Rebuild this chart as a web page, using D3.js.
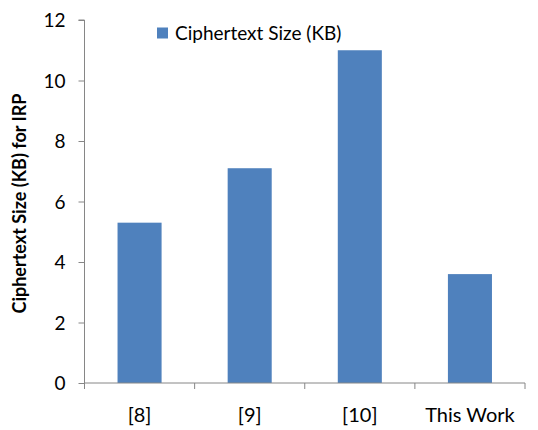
<!DOCTYPE html>
<html>
<head>
<meta charset="utf-8">
<script src="https://cdn.jsdelivr.net/npm/d3@7"></script>
<style>
    body { margin: 0; background: #fff; }
    svg text { font-family: Lato, "Noto Sans", sans-serif; fill: #000; }
</style>
</head>
<body>
<div id="chart"></div>
<script>
// chart data
let categories = ["[8]", "[9]", "[10]", "This Work"];
let ciphertextSize = [5.3, 7.1, 11, 3.6];
let yTicks = [0, 2, 4, 6, 8, 10, 12];
let seriesName = "Ciphertext Size (KB)";

let barColor = "#4F81BD";
let axisColor = "#868686";

let width = 538, height = 430;
let margin = {top: 20, right: 13, bottom: 47, left: 84.5};

let svg = d3.select("#chart").append("svg")
    .attr("width", width)
    .attr("height", height);

let x = d3.scaleBand()
    .domain(categories)
    .range([margin.left, width - margin.right])
    .paddingInner(0.6)
    .paddingOuter(0.3);

let y = d3.scaleLinear()
    .domain([0, 12])
    .range([height - margin.bottom, margin.top]);

// bars
svg.selectAll(".bar")
    .data(categories)
    .enter()
    .append("rect")
    .attr("class", "bar")
    .attr("x", d => x(d))
    .attr("width", x.bandwidth())
    .attr("y", (d, i) => y(ciphertextSize[i]))
    .attr("height", (d, i) => y(0) - y(ciphertextSize[i]))
    .attr("fill", barColor);

// y axis
let yAxis = svg.append("g")
    .attr("transform", `translate(${margin.left},0)`)
    .call(d3.axisLeft(y).tickValues(yTicks).tickSize(6).tickPadding(13));

yAxis.select(".domain").attr("stroke", axisColor).attr("d", `M-6,${y(12)}H0V${y(0)}`);
yAxis.selectAll(".tick line").attr("stroke", axisColor);
yAxis.selectAll(".tick text").attr("font-size", 19).attr("dy", "0.36em");

// x axis, ticks sit on the category boundaries
let xAxis = svg.append("g")
    .attr("transform", `translate(0,${y(0)})`);

xAxis.append("line")
    .attr("x1", margin.left).attr("x2", width - margin.right)
    .attr("stroke", axisColor);

let step = x.step();
let bounds = categories.map((d, i) => margin.left + i * step).concat([width - margin.right]);
xAxis.selectAll(".xtick")
    .data(bounds)
    .enter()
    .append("line")
    .attr("class", "xtick")
    .attr("x1", d => d).attr("x2", d => d)
    .attr("y1", 0).attr("y2", 6)
    .attr("stroke", axisColor);

xAxis.selectAll(".xlabel")
    .data(categories)
    .enter()
    .append("text")
    .attr("class", "xlabel")
    .attr("x", d => x(d) + x.bandwidth() / 2)
    .attr("y", 39)
    .attr("text-anchor", "middle")
    .attr("font-size", 20)
    .text(d => d);

// y axis title
svg.append("text")
    .attr("transform", `translate(26,${(y(0) + y(12)) / 2 + 2}) rotate(-90)`)
    .attr("text-anchor", "middle")
    .attr("font-size", 18)
    .attr("font-weight", "bold")
    .text("Ciphertext Size (KB) for IRP");

// legend
let legend = svg.append("g").attr("transform", "translate(157,27.5)");
legend.append("rect")
    .attr("width", 11).attr("height", 11)
    .attr("fill", barColor);
legend.append("text")
    .attr("x", 18)
    .attr("y", 12.5)
    .attr("font-size", 19)
    .text(seriesName);
</script>
</body>
</html>
